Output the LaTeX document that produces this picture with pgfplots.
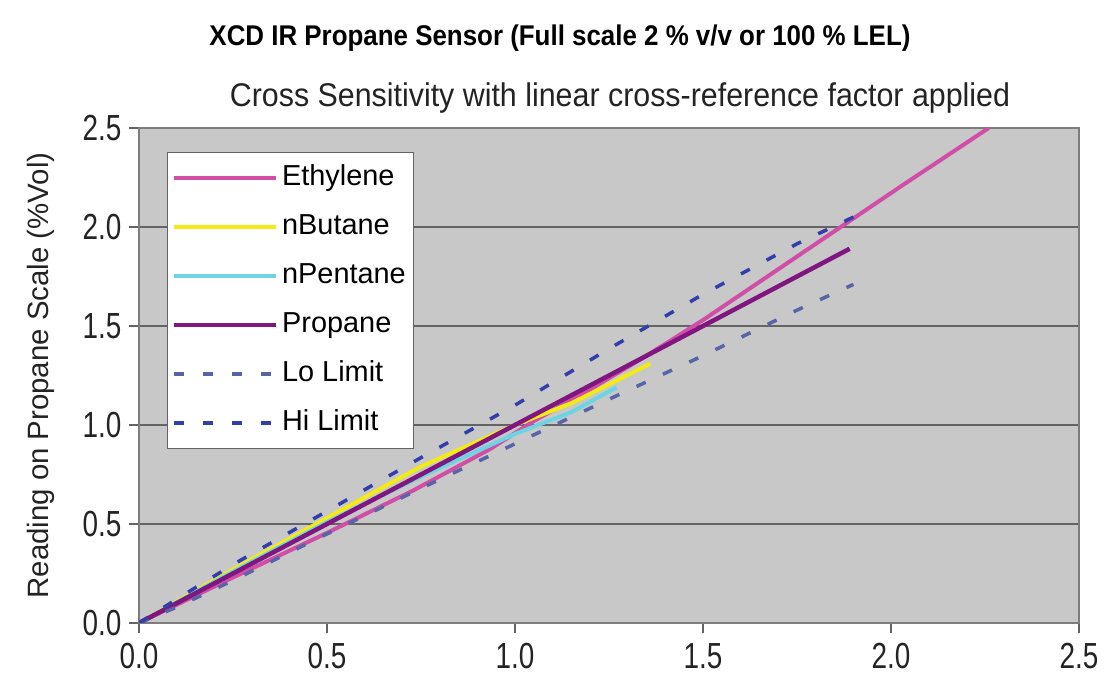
\documentclass[border=0pt]{standalone}
\usepackage{pgfplots}
\pgfplotsset{compat=1.18}
\usepackage{fontspec}
\setmainfont{Liberation Sans}
\definecolor{plotbg}{RGB}{200,200,200}
\definecolor{gridc}{RGB}{100,100,100}
\definecolor{framec}{RGB}{125,125,125}
\definecolor{textc}{RGB}{35,35,35}
\definecolor{ethc}{RGB}{208,78,165}
\definecolor{butc}{RGB}{242,236,20}
\definecolor{penc}{RGB}{110,212,228}
\definecolor{proc}{RGB}{128,22,128}
\definecolor{loc}{RGB}{88,100,165}
\definecolor{hic}{RGB}{50,62,170}
\begin{document}
\begin{tikzpicture}
\begin{axis}[
  at={(0,0)}, anchor=south west,
  scale only axis, width=940bp, height=495bp,
  xmin=0, xmax=2.5, ymin=0, ymax=2.5,
  xtick={0,0.5,1,1.5,2,2.5},
  ytick={0,0.5,1,1.5,2,2.5},
  xticklabel={\scalebox{1}[1.3]{\pgfmathprintnumber[fixed,fixed zerofill,precision=1,assume math mode=true]{\tick}}},
  yticklabel={\scalebox{1}[1.3]{\pgfmathprintnumber[fixed,fixed zerofill,precision=1,assume math mode=true]{\tick}}},
  tick label style={font=\fontsize{28}{32}\selectfont, text=textc},
  xticklabel style={yshift=-7bp},
  yticklabel style={xshift=-4bp},
  axis background/.style={fill=plotbg},
  axis line style={draw=framec, line width=2bp},
  ymajorgrids, grid style={draw=gridc, line width=2.5bp},
  tick align=outside, tick pos=left, major tick length=10bp,
  tick style={draw=gridc, line width=1.8bp},
  ylabel={Reading on Propane Scale (\%Vol)},
  every axis y label/.style={at={(axis description cs:-0.104,0.5)}, rotate=90, anchor=center, font=\fontsize{29.5}{33}\selectfont, text=textc},
  legend style={at={(axis description cs:0.0298,0.9515)}, anchor=north west,
    fill=white, draw=gridc, line width=1.2bp,
    font=\fontsize{29}{33}\selectfont, text=black,
    inner xsep=4bp, inner ysep=8.5bp, row sep=15bp,
    nodes={inner sep=4bp, text height=20bp, text depth=6bp},
    /tikz/every even column/.append style={column sep=8bp}},
  legend cell align=left,
  legend image code/.code={\draw[#1] (0bp,0bp) -- (102bp,0bp);},
]
\addplot[ethc, line width=4bp] coordinates {(0,0) (0.25,0.23) (0.5,0.455) (0.73,0.67) (0.935,0.88) (1.05,1.02) (1.2,1.18) (1.35,1.35) (1.5,1.53) (2.03,2.21) (2.26,2.5)};
\addlegendentry{Ethylene}
\addplot[butc, line width=4bp] coordinates {(0,0) (0.25,0.27) (0.5,0.53) (0.75,0.79) (1.0,1.0) (1.15,1.11) (1.36,1.31)};
\addlegendentry{nButane}
\addplot[penc, line width=4bp] coordinates {(0,0) (0.25,0.26) (0.5,0.51) (0.75,0.74) (1.0,0.955) (1.15,1.065) (1.27,1.19)};
\addlegendentry{nPentane}
\addplot[proc, line width=4.5bp] coordinates {(0,0) (0.5,0.5) (1.0,1.0) (1.5,1.5) (1.89,1.89)};
\addlegendentry{Propane}
\addplot[loc, line width=3.5bp, dash pattern=on 10bp off 19bp] coordinates {(0,0) (0.1,0.08) (0.25,0.215) (0.5,0.45) (0.75,0.68) (1.0,0.905) (1.25,1.13) (1.5,1.35) (1.75,1.58) (1.9,1.71)};
\addlegendentry{Lo Limit}
\addplot[hic, line width=3.5bp, dash pattern=on 10bp off 19bp] coordinates {(0,0) (0.1,0.12) (0.25,0.295) (0.5,0.565) (0.75,0.835) (1.0,1.1) (1.25,1.385) (1.5,1.66) (1.75,1.915) (1.9,2.05)};
\addlegendentry{Hi Limit}
\end{axis}
\node[font=\fontsize{26}{30}\selectfont\bfseries, text=black] at (421bp,585bp) {\scalebox{1}[1.1]{XCD IR Propane Sensor (Full scale 2 \% v/v or 100 \% LEL)}};
\node[font=\fontsize{30.5}{34}\selectfont, text=textc] at (481bp,525bp) {\scalebox{1}[1.08]{Cross Sensitivity with linear cross-reference factor applied}};
\pgfresetboundingbox
\path (-139bp,-55bp) rectangle (966bp,623bp);
\end{tikzpicture}
\end{document}
